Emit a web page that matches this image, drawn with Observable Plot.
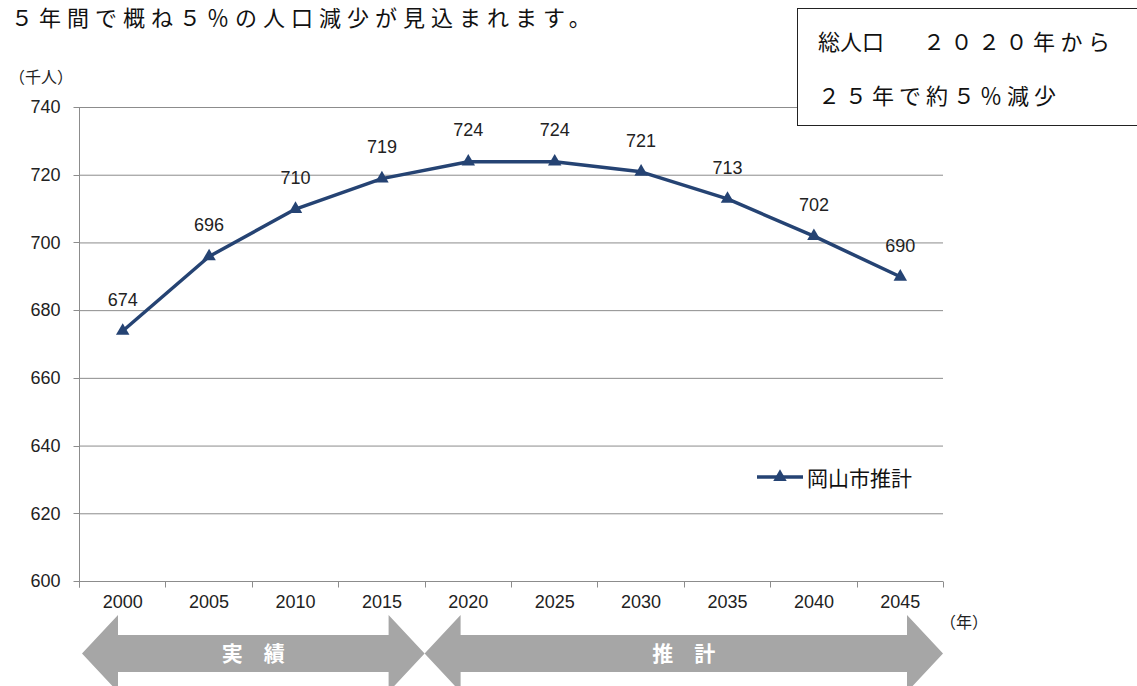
<!DOCTYPE html>
<html lang="ja">
<head>
<meta charset="utf-8">
<script src="https://cdn.jsdelivr.net/npm/d3@7"></script>
<script src="https://cdn.jsdelivr.net/npm/@observablehq/plot@0.6"></script>
<style>
  html, body { margin: 0; padding: 0; background: #fff; }
  #wrap { position: relative; width: 1137px; height: 686px; overflow: hidden; background: #fff;
          font-family: "Noto Sans CJK JP", "Noto Sans", sans-serif; color: #111; }
  #chart { position: absolute; left: 0; top: 0; }
  .abs { position: absolute; white-space: nowrap; }
  .doc { font-size: 22px; line-height: 22px; letter-spacing: 5.5px; color: #111; }
  #box { position: absolute; left: 797px; top: 8px; width: 400px; height: 116px;
         border: 1.5px solid #222; background: #fff; }
  .axislab { font-size: 16px; line-height: 16px; color: #222; }
  #legend { position: absolute; left: 757px; top: 466px; display: flex; align-items: center; }
  #legend span { font-size: 21px; line-height: 22px; color: #111; margin-left: 4px; }
</style>
</head>
<body>
<div id="wrap">
  <div id="chart"></div>
  <div class="abs doc" style="left:11px; top:5px; letter-spacing:6px;">５年間で概ね５％の人口減少が見込まれます。</div>
  <div id="box"></div>
  <div class="abs doc" style="left:818px; top:29px; letter-spacing:0;">総人口</div>
  <div class="abs doc" style="left:923px; top:29px;">２０２０年から</div>
  <div class="abs doc" style="left:818px; top:83px; letter-spacing:5px;">２５年で約５％減少</div>
  <div class="abs axislab" style="left:9px; top:68px;">（千人）</div>
  <div class="abs axislab" style="left:940px; top:613px;">（年）</div>
  <div id="legend"></div>
</div>
<script>
// ---- data ----
const years = [2000, 2005, 2010, 2015, 2020, 2025, 2030, 2035, 2040, 2045];
const population = [674, 696, 710, 719, 724, 724, 721, 713, 702, 690]; // 千人
const seriesName = "岡山市推計";
const yTicks = [600, 620, 640, 660, 680, 700, 720, 740];
const yDomain = [600, 740];
const xBoundaries = [1997.5, 2002.5, 2007.5, 2012.5, 2017.5, 2022.5, 2027.5, 2032.5, 2037.5, 2042.5, 2047.5];
const periodLabels = ["実　績", "推　計"];
const periodStart = [1997.5, 2017.5];
const periodEnd = [2017.5, 2047.5];

const LINE = "#254373";
const GRID = "#8c8c8c";
const ARROW = "#a6a6a6";

const data = years.map((year, i) => ({year, value: population[i]}));

function sc(scales, k) {
  if (typeof scales[k] === "function") return scales[k];
  if (scales.scales && scales.scales[k]) return (v) => scales.scales[k].apply(v);
  return (v) => v;
}

// axis lines + tick marks (Excel style, ticks at category boundaries)
function axesMark(index, scales) {
  const x = sc(scales, "x"), y = sc(scales, "y");
  const g = d3.create("svg:g").attr("stroke", GRID).attr("stroke-width", 1).attr("fill", "none");
  const x0 = Math.round(x(xBoundaries[0])) + 0.5;
  const y0 = Math.round(y(yDomain[0])) + 0.5;
  const yTop = Math.round(y(yDomain[1])) + 0.5;
  g.append("line").attr("x1", x0).attr("x2", x0).attr("y1", yTop).attr("y2", y0 + 6);
  for (const t of yTicks) {
    const yy = Math.round(y(t)) + 0.5;
    g.append("line").attr("x1", x0 - 6).attr("x2", x0).attr("y1", yy).attr("y2", yy);
  }
  for (const b of xBoundaries) {
    const xx = Math.round(x(b)) + 0.5;
    g.append("line").attr("x1", xx).attr("x2", xx).attr("y1", y0).attr("y2", y0 + 6);
  }
  return g.node();
}

// period arrows (実績 / 推計) under the x axis
function periodArrows(index, scales) {
  const x = sc(scales, "x"), y = sc(scales, "y");
  const base = y(yDomain[0]);
  const top = base + 54, bot = base + 91, cy = (top + bot) / 2, hh = 38.5, hl = 36;
  const g = d3.create("svg:g");
  periodLabels.forEach((label, i) => {
    const xl = x(periodStart[i]) + (i === 0 ? 3 : 0);
    const xr = x(periodEnd[i]);
    const pts = [
      [xl, cy], [xl + hl, cy - hh], [xl + hl, top], [xr - hl, top], [xr - hl, cy - hh],
      [xr, cy], [xr - hl, cy + hh], [xr - hl, bot], [xl + hl, bot], [xl + hl, cy + hh]
    ];
    g.append("polygon").attr("points", pts.map(p => p.join(",")).join(" ")).attr("fill", ARROW);
    g.append("text").attr("x", (xl + xr) / 2).attr("y", cy).attr("dy", "0.36em")
      .attr("text-anchor", "middle").attr("fill", "#fff").attr("font-weight", "bold")
      .attr("font-size", 21).attr("font-family", '"Noto Sans CJK JP", sans-serif')
      .text(label);
  });
  return g.node();
}

const chart = Plot.plot({
  width: 1137,
  height: 686,
  marginLeft: 79,
  marginRight: 194,
  marginTop: 107,
  marginBottom: 105,
  x: {domain: [xBoundaries[0], xBoundaries[xBoundaries.length - 1]], axis: null},
  y: {domain: yDomain, axis: null},
  style: {background: "transparent", fontFamily: '"Liberation Sans", Arial, sans-serif', fontSize: "18px", color: "#222"},
  marks: [
    Plot.ruleY(yTicks, {stroke: GRID, strokeWidth: 1, strokeOpacity: 1}),
    axesMark,
    Plot.text(yTicks, {y: d => d, text: d => String(d), frameAnchor: "left", textAnchor: "end", dx: -19, fill: "#222", fontSize: 18}),
    Plot.text(years, {x: d => d, text: d => String(d), frameAnchor: "bottom", dy: 26, fill: "#222", fontSize: 18}),
    Plot.line(data, {x: "year", y: "value", stroke: LINE, strokeWidth: 3.5, strokeLinejoin: "round"}),
    Plot.dot(data, {x: "year", y: "value", symbol: "triangle", r: 5, fill: LINE, stroke: "none"}),
    Plot.text(data, {x: "year", y: "value", text: d => String(d.value), dy: -31, fill: "#222", fontSize: 18}),
    periodArrows
  ]
});
document.getElementById("chart").appendChild(chart);

// legend
const leg = d3.select("#legend");
const ls = leg.append("svg").attr("width", 46).attr("height", 22);
ls.append("line").attr("x1", 0).attr("x2", 46).attr("y1", 11).attr("y2", 11).attr("stroke", LINE).attr("stroke-width", 3.5);
ls.append("path").attr("d", d3.symbol(d3.symbolTriangle, Math.PI * 25)()).attr("transform", "translate(23,11)").attr("fill", LINE);
leg.append("span").text(seriesName);
</script>
</body>
</html>
